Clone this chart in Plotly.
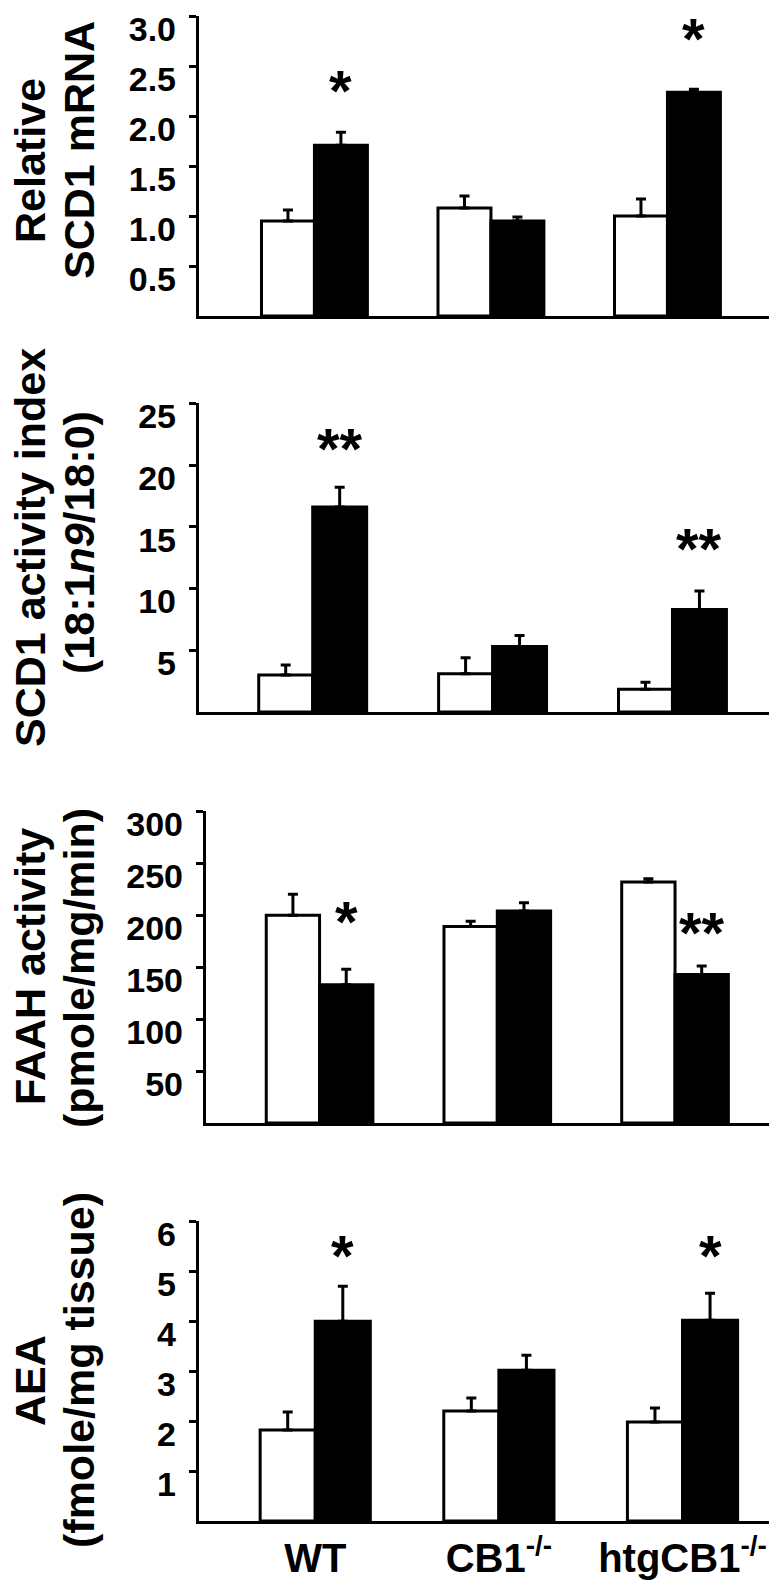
import plotly.graph_objects as go

W, H = 777, 1588
FONT = "Liberation Sans, Arial, sans-serif"

groups = ["WT", "CB1<sup>-/-</sup>", "htgCB1<sup>-/-</sup>"]

# Panel 1: Relative SCD1 mRNA
mrna_white = [0.95, 1.08, 1.00]
mrna_white_err = [0.11, 0.12, 0.17]
mrna_black = [1.71, 0.95, 2.24]
mrna_black_err = [0.13, 0.04, 0.03]
mrna_sig = ["*", "", "*"]
mrna_sig_y = [2.26, 0, 2.78]

# Panel 2: SCD1 activity index
idx_white = [3.0, 3.1, 1.85]
idx_white_err = [0.8, 1.3, 0.55]
idx_black = [16.6, 5.3, 8.3]
idx_black_err = [1.6, 0.9, 1.5]
idx_sig = ["**", "", "**"]
idx_sig_y = [21.3, 0, 13.2]

# Panel 3: FAAH activity
faah_white = [200, 189, 232]
faah_white_err = [20, 5, 3]
faah_black = [133, 204, 143]
faah_black_err = [15, 8, 8]
faah_sig = ["*", "", "**"]
faah_sig_y = [194, 0, 183]

# Panel 4: AEA
aea_white = [1.82, 2.2, 1.98]
aea_white_err = [0.36, 0.26, 0.28]
aea_black = [4.0, 3.02, 4.02]
aea_black_err = [0.7, 0.3, 0.54]
aea_sig = ["*", "", "*"]
aea_sig_y = [5.32, 0, 5.32]

BARGAP = 0.4
LABEL_DROP_PX = 13  # tick labels sit slightly below their ticks in the original

panels = [
    dict(white=mrna_white, werr=mrna_white_err, black=mrna_black, berr=mrna_black_err,
         sig=mrna_sig, sig_y=mrna_sig_y,
         ytop=8, ybot=308, yrange=[0, 3.003], tickvals=[0.5, 1.0, 1.5, 2.0, 2.5, 3.0], fmt=".1f",
         xl=191, xr=777, xrange=[-0.654, 2.666],
         titles=[("Relative", 22, 153), ("SCD1 mRNA", 71, 142)]),
    dict(white=idx_white, werr=idx_white_err, black=idx_black, berr=idx_black_err,
         sig=idx_sig, sig_y=idx_sig_y,
         ytop=395, ybot=704, yrange=[0, 25.02], tickvals=[5, 10, 15, 20, 25], fmt="d",
         xl=191, xr=767, xrange=[-0.632, 2.57],
         titles=[("SCD1 activity index", 22, 540), ("(18:1<i>n9</i>/18:0)", 71, 535)]),
    dict(white=faah_white, werr=faah_white_err, black=faah_black, berr=faah_black_err,
         sig=faah_sig, sig_y=faah_sig_y,
         ytop=803, ybot=1115, yrange=[0, 300.2], tickvals=[50, 100, 150, 200, 250, 300], fmt="d",
         xl=198, xr=763, xrange=[-0.639, 2.54],
         titles=[("FAAH activity", 22, 959), ("(pmole/mg/min)", 71, 960)]),
    dict(white=aea_white, werr=aea_white_err, black=aea_black, berr=aea_black_err,
         sig=aea_sig, sig_y=aea_sig_y,
         ytop=1213, ybot=1513, yrange=[0, 6.005], tickvals=[1, 2, 3, 4, 5, 6], fmt="d",
         xl=191, xr=770, xrange=[-0.633, 2.52],
         titles=[("AEA", 22, 1373), ("(fmole/mg tissue)", 71, 1362)]),
]

fig = go.Figure()
annotations = []
layout_axes = {}
bar_w = (1 - BARGAP) / 2
black_off = bar_w / 2

for i, p in enumerate(panels):
    n = "" if i == 0 else str(i + 1)
    xa, ya = "x" + n, "y" + n
    lab_n = str(i + 5)            # overlay y axis carrying the tick labels
    ya_lab = "y" + lab_n
    fig.add_trace(go.Bar(
        x=groups, y=p["white"], xaxis=xa, yaxis=ya,
        marker=dict(color="white", line=dict(color="black", width=3)),
        error_y=dict(type="data", array=p["werr"], arrayminus=[0] * 3, symmetric=False,
                     color="black", thickness=3, width=5),
    ))
    fig.add_trace(go.Bar(
        x=groups, y=p["black"], xaxis=xa, yaxis=ya,
        marker=dict(color="black", line=dict(color="black", width=3)),
        error_y=dict(type="data", array=p["berr"], arrayminus=[0] * 3, symmetric=False,
                     color="black", thickness=3, width=5),
    ))
    # invisible helper trace so the label axis is drawn
    fig.add_trace(go.Scatter(x=groups, y=[None] * 3, xaxis=xa, yaxis=ya_lab,
                             mode="markers", hoverinfo="skip"))
    last = (i == len(panels) - 1)
    layout_axes["xaxis" + n] = dict(
        domain=[p["xl"] / W, p["xr"] / W], range=p["xrange"], anchor=ya,
        type="category", showline=True, linewidth=3, linecolor="black",
        showgrid=False, zeroline=False, ticks="", automargin=False,
        showticklabels=last, ticklabelstandoff=0,
        tickfont=dict(family=FONT, size=40, color="black", weight="bold"),
    )
    dom = [1 - p["ybot"] / H, 1 - p["ytop"] / H]
    layout_axes["yaxis" + n] = dict(
        domain=dom, range=p["yrange"], anchor=xa,
        showline=True, linewidth=3, linecolor="black", showgrid=False, zeroline=False,
        ticks="outside", ticklen=7, tickwidth=3, tickcolor="black", automargin=False,
        tickvals=p["tickvals"], showticklabels=False,
    )
    r0, r1 = p["yrange"]
    d = LABEL_DROP_PX * (r1 - r0) / (p["ybot"] - p["ytop"])
    layout_axes["yaxis" + lab_n] = dict(
        overlaying=ya, anchor=xa, side="left", range=[r0 + d, r1 + d],
        showline=False, showgrid=False, zeroline=False, ticks="", automargin=False,
        tickvals=p["tickvals"], tickformat=p["fmt"], ticklabelstandoff=22,
        ticklabeloverflow="allow",
        tickfont=dict(family=FONT, size=34, color="black", weight="bold"),
    )
    for j, s in enumerate(p["sig"]):
        if s:
            annotations.append(dict(
                x=j + black_off, y=p["sig_y"][j], xref=xa, yref=ya, text=s,
                showarrow=False, xanchor="center", yanchor="middle", yshift=0,
                font=dict(family=FONT, size=58, color="black", weight="bold"),
            ))
    for text, tx, ty in p["titles"]:
        annotations.append(dict(
            x=tx / W, y=1 - ty / H, xref="paper", yref="paper", text=text,
            showarrow=False, textangle=-90, xanchor="center", yanchor="middle",
            font=dict(family=FONT, size=43, color="black", weight="bold"),
        ))

fig.update_layout(
    width=W, height=H, margin=dict(l=0, r=0, t=0, b=0, autoexpand=False),
    paper_bgcolor="white", plot_bgcolor="white",
    showlegend=False, barmode="group", bargap=BARGAP, bargroupgap=0,
    annotations=annotations, **layout_axes,
)

fig.write_html("out.html")
